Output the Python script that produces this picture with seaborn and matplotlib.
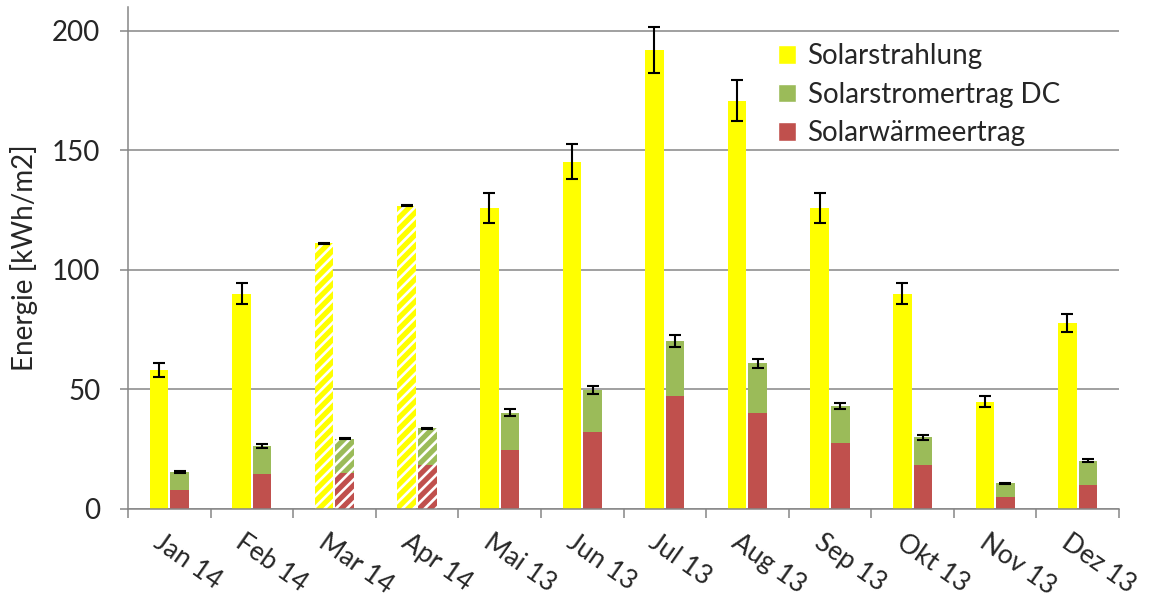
import numpy as np
import pandas as pd
import matplotlib
matplotlib.use("Agg")
import matplotlib.pyplot as plt
from matplotlib.patches import Patch
from matplotlib.transforms import ScaledTranslation
import seaborn as sns

# Monthly energy per m2 collector area
monate = ["Jan 14", "Feb 14", "Mar 14", "Apr 14", "Mai 13", "Jun 13",
          "Jul 13", "Aug 13", "Sep 13", "Okt 13", "Nov 13", "Dez 13"]
solarstrahlung = [58.2, 90.1, 111.2, 126.8, 125.8, 145.3,
                  192.1, 170.7, 125.8, 90.1, 44.9, 77.8]
solarstrahlung_err = [2.9, 4.5, 0.2, 0.2, 6.3, 7.3,
                      9.6, 8.6, 6.3, 4.5, 2.3, 3.9]
solarwaerme = [8.0, 14.8, 15.2, 18.4, 24.7, 32.3,
               47.3, 40.3, 27.7, 18.4, 5.2, 10.0]
solarstrom_dc = [7.5, 11.6, 14.1, 15.4, 15.6, 17.5,
                 23.0, 20.7, 15.4, 11.6, 5.5, 10.2]
ertrag_err = [0.4, 0.7, 0.2, 0.2, 1.4, 1.7,
              2.5, 1.9, 1.2, 1.0, 0.3, 0.6]
# months with incomplete measurements (shown hatched)
unvollstaendig = ["Mar 14", "Apr 14"]

GELB = "#FFFF00"
GRUEN = "#9BBB59"
ROT = "#C0504D"
GRAU = "#868686"

sns.set_style("white")
plt.rcParams["font.family"] = ["Lato", "DejaVu Sans"]
plt.rcParams["hatch.linewidth"] = 1.9

ertrag_gesamt = list(np.add(solarwaerme, solarstrom_dc))
n = len(monate)
df_oben = pd.DataFrame({
    "Monat": monate * 2,
    "Reihe": ["Strahlung"] * n + ["Ertrag"] * n,
    "Wert": list(solarstrahlung) + ertrag_gesamt,
})
df_unten = pd.DataFrame({
    "Monat": monate * 2,
    "Reihe": ["Strahlung"] * n + ["Ertrag"] * n,
    "Wert": [0.0] * n + list(solarwaerme),
})

fig = plt.figure(figsize=(11.52, 6.03), dpi=100)
ax = fig.add_axes([0.1111, 0.1559, 0.8603, 0.8325])

common = dict(x="Monat", y="Wert", hue="Reihe", hue_order=["Strahlung", "Ertrag"],
              order=monate, width=0.5, gap=0.1, errorbar=None, legend=False,
              linewidth=0, saturation=1, ax=ax)
sns.barplot(data=df_oben, palette={"Strahlung": GELB, "Ertrag": GRUEN}, **common)
sns.barplot(data=df_unten, palette={"Strahlung": GELB, "Ertrag": ROT}, **common)

gelb_bars, gruen_bars, _, rot_bars = ax.containers[:4]

# hatching for incomplete months
for i, m in enumerate(monate):
    if m in unvollstaendig:
        for bar in (gelb_bars[i], gruen_bars[i], rot_bars[i]):
            bar.set_hatch("///")
            bar.set_edgecolor("white")
            bar.set_linewidth(0)

# error bars
def bar_centers(container):
    return [p.get_x() + p.get_width() / 2 for p in container]

eb_style = dict(fmt="none", ecolor="black", elinewidth=1.5, capsize=4.5,
                capthick=1.5, zorder=5)
ax.errorbar(bar_centers(gelb_bars), solarstrahlung, yerr=solarstrahlung_err, **eb_style)
ax.errorbar(bar_centers(gruen_bars), ertrag_gesamt, yerr=ertrag_err, **eb_style)

# axes styling
ax.set_ylim(0, 210)
ax.set_xlim(-0.5, n - 0.5)
ax.set_yticks([0, 50, 100, 150, 200])
ax.yaxis.grid(True, color=GRAU, linewidth=1.1)
ax.set_axisbelow(True)
for s in ["top", "right"]:
    ax.spines[s].set_visible(False)
for s in ["left", "bottom"]:
    ax.spines[s].set_color(GRAU)
    ax.spines[s].set_linewidth(1.1)

ax.tick_params(axis="y", direction="out", length=6, width=1.1, color=GRAU,
               labelsize=20, pad=14, left=True)
ax.set_xticks(list(np.arange(n) - 0.5) + [n - 0.5], minor=True)
ax.tick_params(axis="x", which="minor", direction="out", length=6.5, width=1.1,
               color=GRAU, bottom=True)
ax.tick_params(axis="x", which="major", length=0, labelsize=19, pad=15)
ax.set_xlabel("")
ax.set_ylabel("Energie [kWh/m2]", fontsize=20, labelpad=10)

offset = ScaledTranslation(-6 / 100, 0, fig.dpi_scale_trans)
for lbl in ax.get_xticklabels():
    lbl.set_rotation(-35)
    lbl.set_rotation_mode("anchor")
    lbl.set_ha("left")
    lbl.set_va("top")
    lbl.set_transform(lbl.get_transform() + offset)

handles = [Patch(facecolor=GELB, label="Solarstrahlung"),
           Patch(facecolor=GRUEN, label="Solarstromertrag DC"),
           Patch(facecolor=ROT, label="Solarwärmeertrag")]
ax.legend(handles=handles, loc="upper left", bbox_to_anchor=(0.645, 0.95),
          frameon=False, fontsize=20, handlelength=0.65, handleheight=0.65,
          handletextpad=0.4, labelspacing=0.45, borderaxespad=0)

fig.savefig("out.png", dpi=100, facecolor="white")
